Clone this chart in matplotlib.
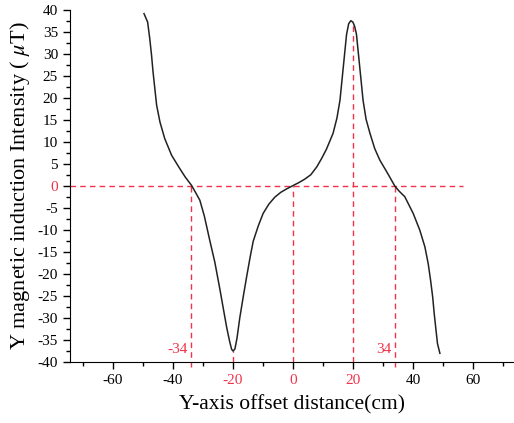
'''
Y magnetic induction along the Y axis offset
'''
import matplotlib
matplotlib.use('Agg')
import matplotlib.pyplot as plt
from matplotlib.ticker import MultipleLocator

# curve: offset (cm) and intensity (uT)
offset = [-49.6, -48.4, -47.7, -47.1, -46.6, -46.0, -45.4, -44.3, -42.7, -40.4,
          -37.7, -35.8, -33.8, -32.3, -31.0, -29.5, -27.7, -26.0, -24.3, -23.0,
          -22.0, -21.0, -20.4, -19.9, -19.3, -18.6, -17.7, -16.5, -15.4, -14.2,
          -13.2, -11.5, -9.9, -8.0, -6.0, -4.0, -2.0, 0.0, 2.0, 4.0,
          6.0, 8.0, 9.6, 11.2, 13.4, 14.7, 15.7, 16.8, 17.9, 18.6,
          19.3, 20.0, 20.6, 21.2, 22.3, 23.4, 24.4, 25.7, 27.3, 29.0,
          31.5, 34.0, 35.5, 37.3, 40.1, 42.3, 44.0, 45.1, 45.9, 46.6,
          47.1, 47.7, 48.2, 49.0]
intensity = [39.2, 37.3, 33.6, 29.8, 26.0, 22.2, 18.4, 14.6, 10.8, 7.0,
             4.0, 2.0, 0.2, -1.6, -3.2, -6.8, -12.3, -17.3, -23.5, -28.5,
             -32.3, -35.5, -37.1, -37.5, -37.0, -34.5, -30.0, -25.0, -20.6, -16.0,
             -12.5, -9.0, -6.2, -4.1, -2.5, -1.4, -0.6, 0.1, 0.8, 1.6,
             2.6, 4.4, 6.3, 8.4, 12.0, 15.5, 19.5, 27.0, 34.5, 36.9,
             37.6, 37.3, 36.3, 34.5, 27.0, 19.5, 15.2, 12.0, 8.5, 5.9,
             3.0, 0.0, -1.2, -2.4, -6.2, -10.0, -13.8, -17.6, -21.4, -25.2,
             -28.9, -32.7, -35.8, -38.0]

# marked positions
zero_cross = [-34, 34]
extremes_x = [-20, 20]
extremes_y = [-37.5, 37.3]
zero_line_end = 56.7

red = '#f0324a'
plt.rcParams['font.family'] = ['Liberation Serif', 'DejaVu Serif']
plt.rcParams['mathtext.fontset'] = 'stix'
plt.rcParams['axes.unicode_minus'] = False

fig = plt.figure(figsize = (5.14, 4.23), dpi = 100)
ax = fig.add_axes([0.136, 0.144, 0.864, 0.832])

xmin, xmax = -74.3, 73.7
ymin, ymax = -40, 40
ax.set_xlim(xmin, xmax)
ax.set_ylim(ymin, ymax)

# reference lines
dash = (0, (4, 3))
ax.plot([xmin, zero_line_end], [0, 0], color = red, lw = 1, linestyle = dash)
ax.plot([0, 0], [ymin, 0], color = red, lw = 1, linestyle = dash)
for xc in zero_cross:
    ax.plot([xc, xc], [ymin - 1.2, 0], color = red, lw = 1, linestyle = dash, clip_on = False)
for xe, ye in zip(extremes_x, extremes_y):
    ax.plot([xe, xe], [ymin, ye], color = red, lw = 1, linestyle = dash)

ax.plot(offset, intensity, color = '#222222', lw = 1.1)

ax.text(zero_cross[0] - 1, ymin + 1.3, '-34', color = red, fontsize = 11, ha = 'right', va = 'bottom')
ax.text(zero_cross[1] - 1, ymin + 1.3, '34', color = red, fontsize = 11, ha = 'right', va = 'bottom')

ax.spines['top'].set_visible(False)
ax.spines['right'].set_visible(False)
ax.xaxis.set_major_locator(MultipleLocator(20))
ax.xaxis.set_minor_locator(MultipleLocator(10))
ax.yaxis.set_major_locator(MultipleLocator(5))
ax.yaxis.set_minor_locator(MultipleLocator(2.5))
ax.tick_params(which = 'major', direction = 'out', length = 5, width = 1, labelsize = 11)
ax.tick_params(which = 'minor', direction = 'out', length = 3, width = 1)

fig.canvas.draw()
for t, lab in zip(ax.xaxis.get_major_ticks(), ax.get_xticks()):
    if lab in (-20, 0, 20):
        t.tick1line.set_color(red)
        t.label1.set_color(red)
for t, lab in zip(ax.yaxis.get_major_ticks(), ax.get_yticks()):
    if lab == 0:
        t.tick1line.set_color(red)
        t.label1.set_color(red)

ax.set_xlabel('Y-axis offset distance(cm)', fontsize = 15.5, labelpad = 6)
ax.set_ylabel(r'Y magnetic induction Intensity ( $\mu$T)', fontsize = 16, labelpad = 4)

fig.savefig('out.png', dpi = 100)
plt.close()
